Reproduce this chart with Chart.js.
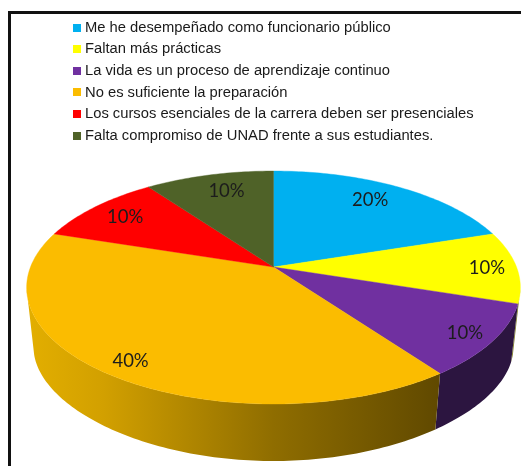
<!DOCTYPE html>
<html lang="es">
<head>
<meta charset="utf-8">
<style>html,body{margin:0;padding:0;background:#fff}canvas{display:block}</style>
<script src="https://cdn.jsdelivr.net/npm/chart.js@4"></script>
</head>
<body>
<canvas id="c" width="521" height="466"></canvas>
<script>
const categories = [
  "Me he desempeñado como funcionario público",
  "Faltan más prácticas",
  "La vida es un proceso de aprendizaje continuo",
  "No es suficiente la preparación",
  "Los cursos esenciales de la carrera deben ser presenciales",
  "Falta compromiso de UNAD frente a sus estudiantes."
];
const values = [20, 10, 10, 40, 10, 10];
const sliceColors = ["#00B0F0", "#FFFF00", "#7030A0", "#FBBC00", "#FF0000", "#4F6228"];
const tickLabels = ["20%", "10%", "10%", "40%", "10%", "10%"];

// projection of the flat pie into the tilted 3D view
const SQUASH = 0.4645, PERSP = 0.176, STEP = Math.PI / 180;
const BASE_X_SCALE = 0.972, BASE_SQUASH = 0.4074, BASE_PERSP = 0.25, DEPTH = 62, BASE_MIN_SIN = 0.24;
const LABEL_RADIUS = 0.8;
const labelNudge = [[-6, -1], [19, 1], [20, 8], [-14, 12], [-3, -1], [6, 0]];

function project(el, angle, r, lower) {
  const u = Math.cos(angle) * r, v = Math.sin(angle) * r;
  const R = el.outerRadius;
  const dx = R * u / (1 - PERSP * v);
  if (lower) {
    return [el.x + dx * BASE_X_SCALE, el.y + DEPTH + R * BASE_SQUASH * v / (1 - BASE_PERSP * v)];
  }
  return [el.x + dx, el.y + R * SQUASH * v / (1 - PERSP * v)];
}
function arcAngles(el) {
  const out = [];
  const n = Math.max(2, Math.ceil((el.endAngle - el.startAngle) / STEP));
  for (let i = 0; i <= n; i++) out.push(el.startAngle + (el.endAngle - el.startAngle) * i / n);
  return out;
}
function sideFill(ctx, index, el) {
  if (index === 3) {
    const left = el.x - el.outerRadius, right = el.x + el.outerRadius;
    const g = ctx.createLinearGradient(left, 0, right, 0);
    g.addColorStop(0, "#E2AE00");
    g.addColorStop(0.15, "#D2A000");
    g.addColorStop(0.5, "#8F6D00");
    g.addColorStop(0.85, "#5F4800");
    g.addColorStop(1, "#5F4800");
    return g;
  }
  if (index === 2) return "#2C1540";
  if (index === 1) return "#85852A";
  return "#333";
}
const tiltedPie = {
  id: "tiltedPie",
  beforeDraw(chart) {
    const { ctx } = chart;
    ctx.save();
    ctx.fillStyle = "#fff";
    ctx.fillRect(0, 0, 521, 466);
    ctx.fillStyle = "#111";
    ctx.fillRect(8, 11, 513, 3);
    ctx.fillRect(8, 11, 3, 455);
    ctx.restore();
  },
  beforeDatasetsDraw(chart) {
    const { ctx } = chart;
    const arcs = chart.getDatasetMeta(0).data;
    ctx.save();
    // side wall: the visible front part between the upper and lower rims
    arcs.forEach((el, i) => {
      const all = arcAngles(el);
      const upper = all.filter(a => Math.sin(a) >= PERSP);
      const lower = all.filter(a => Math.sin(a) >= BASE_MIN_SIN);
      if (upper.length < 2 || lower.length < 2) return;
      ctx.fillStyle = sideFill(ctx, i, el);
      ctx.beginPath();
      upper.forEach((a, k) => {
        const p = project(el, a, 1);
        if (k) ctx.lineTo(p[0], p[1]); else ctx.moveTo(p[0], p[1]);
      });
      lower.reverse().forEach(a => {
        const p = project(el, a, 1, true);
        ctx.lineTo(p[0], p[1]);
      });
      ctx.closePath();
      ctx.fill();
    });
    // top surface
    arcs.forEach((el, i) => {
      ctx.fillStyle = sliceColors[i]; ctx.strokeStyle = sliceColors[i]; ctx.lineWidth = 0.4;
      ctx.beginPath();
      ctx.moveTo(el.x, el.y);
      arcAngles(el).forEach(a => { const p = project(el, a, 1); ctx.lineTo(p[0], p[1]); });
      ctx.closePath(); ctx.fill(); ctx.stroke();
    });
    ctx.restore();
    return false;
  },
  afterDraw(chart) {
    const { ctx } = chart;
    const arcs = chart.getDatasetMeta(0).data;
    ctx.save();
    ctx.font = "18.5px 'Liberation Sans Narrow', Lato";
    ctx.fillStyle = "#1c1c1c";
    ctx.textAlign = "center";
    ctx.textBaseline = "middle";
    arcs.forEach((el, i) => {
      const p = project(el, (el.startAngle + el.endAngle) / 2, LABEL_RADIUS);
      ctx.fillText(tickLabels[i], p[0] + labelNudge[i][0], p[1] + labelNudge[i][1]);
    });
    ctx.restore();
  },
  afterLayout(chart) {
    chart.legend.left = 68.75;
    chart.legend.top = 13.45;
  }
};
function legendSwatch(color) {
  const s = document.createElement("canvas");
  s.width = 8; s.height = 8;
  const g = s.getContext("2d");
  g.fillStyle = color; g.fillRect(0, 0, 8, 8);
  return s;
}
new Chart(document.getElementById("c"), {
  type: "pie",
  plugins: [tiltedPie],
  data: {
    labels: categories,
    datasets: [{ data: values, backgroundColor: sliceColors, borderWidth: 0, radius: 243 }]
  },
  options: {
    responsive: false,
    animation: false,
    layout: { padding: { left: 26, right: 0, top: 68, bottom: 0 } },
    plugins: {
      tooltip: { enabled: false },
      legend: {
        position: "chartArea",
        align: "start",
        labels: {
          usePointStyle: true,
          pointStyleWidth: 2,
          boxHeight: 8,
          padding: 6.85,
          color: "#1a1a1a",
          font: { family: "'Liberation Sans'", size: 14.75 },
          generateLabels(chart) {
            const items = Chart.overrides.doughnut.plugins.legend.labels.generateLabels(chart);
            items.forEach((it, i) => { it.pointStyle = legendSwatch(sliceColors[i]); });
            return items;
          }
        }
      }
    }
  }
});
</script>
</body>
</html>
